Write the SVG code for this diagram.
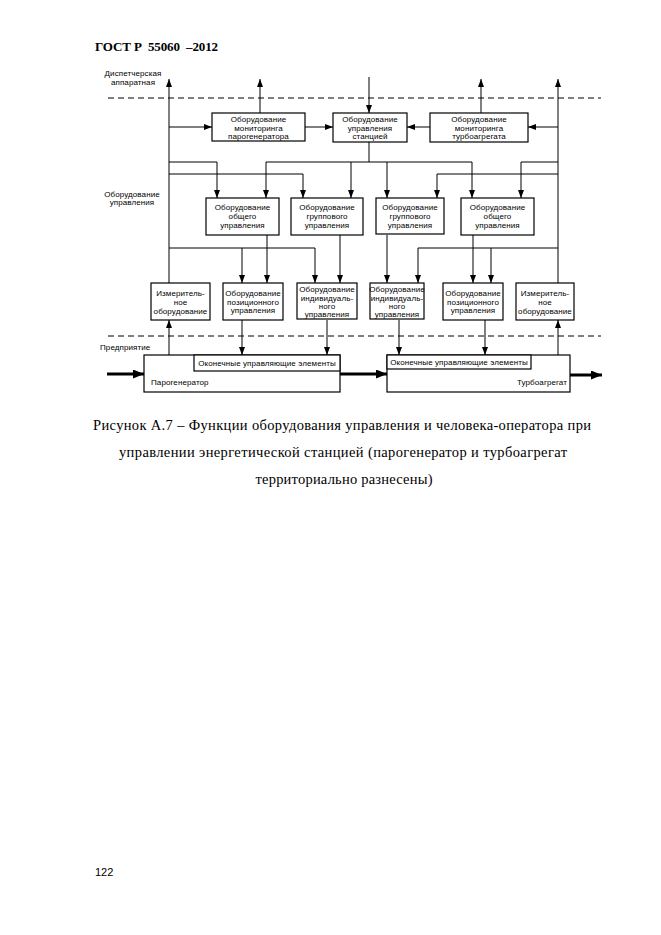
<svg xmlns="http://www.w3.org/2000/svg" width="661" height="935" viewBox="0 0 661 935">
<style>
.bg{fill:#fff}
.box{fill:#fff;stroke:#000;stroke-width:1.2}
.t{font-family:"Liberation Sans",Arial,sans-serif;font-size:8px;letter-spacing:0.1px;fill:#000}
.c{text-anchor:middle}
.ln{fill:none;stroke:#000;stroke-width:1}
.th{fill:none;stroke:#000;stroke-width:3}
.dash{stroke:#000;stroke-width:1;stroke-dasharray:6,4}
.cap{font-family:"Liberation Serif","Times New Roman",serif;font-size:14.5px;fill:#000;text-anchor:middle}
</style>
<defs>
<marker id="ah" markerWidth="8" markerHeight="6" refX="8" refY="3" orient="auto" markerUnits="userSpaceOnUse"><path d="M0,0 L8,3 L0,6 z" fill="#000"/></marker>
<marker id="tah" markerWidth="11" markerHeight="9" refX="11" refY="4.5" orient="auto" markerUnits="userSpaceOnUse"><path d="M0,0 L11,4.5 L0,9 z" fill="#000"/></marker>
</defs>
<rect class="bg" x="0" y="0" width="661" height="935"/>
<text x="95" y="51" font-family="Liberation Serif,serif" font-weight="bold" font-size="13" textLength="123" lengthAdjust="spacing" xml:space="preserve">ГОСТ Р  55060  –2012</text>

<g id="labels">
<text class="t c" x="133" y="76">Диспетчерская</text>
<text class="t c" x="133" y="85">аппаратная</text>
<text class="t c" x="132" y="197">Оборудование</text>
<text class="t c" x="132" y="205">управления</text>
<text class="t" x="100" y="350">Предприятие</text>
</g>
<line class="dash" x1="108" y1="98" x2="601" y2="98"/>
<line class="dash" x1="108" y1="336" x2="601" y2="336"/>

<g id="connectors">
<path class="ln" d="M169,283 V79" marker-end="url(#ah)"/>
<path class="ln" d="M558,283 V79" marker-end="url(#ah)"/>
<path class="ln" d="M260,113 V79" marker-end="url(#ah)"/>
<path class="ln" d="M481,113 V79" marker-end="url(#ah)"/>
<path class="ln" d="M369,77 V113" marker-end="url(#ah)"/>
<path class="ln" d="M169,127 H212" marker-end="url(#ah)"/>
<path class="ln" d="M558,127 H528" marker-end="url(#ah)"/>
<path class="ln" d="M305,127 H333" marker-end="url(#ah)"/>
<path class="ln" d="M430,127 H407" marker-end="url(#ah)"/>
<path class="ln" d="M369,142 V162"/>
<path class="ln" d="M369,162 H266 V198" marker-end="url(#ah)"/>
<path class="ln" d="M369,162 H472 V198" marker-end="url(#ah)"/>
<path class="ln" d="M351,162 V198" marker-end="url(#ah)"/>
<path class="ln" d="M387,162 V198" marker-end="url(#ah)"/>
<path class="ln" d="M169,162 H217 V198" marker-end="url(#ah)"/>
<path class="ln" d="M169,174 H303 V198" marker-end="url(#ah)"/>
<path class="ln" d="M558,162 H521 V198" marker-end="url(#ah)"/>
<path class="ln" d="M558,174 H437 V198" marker-end="url(#ah)"/>
<path class="ln" d="M267,235 V283" marker-end="url(#ah)"/>
<path class="ln" d="M169,248 H315 V283" marker-end="url(#ah)"/>
<path class="ln" d="M242,248 V283" marker-end="url(#ah)"/>
<path class="ln" d="M340,235 V283" marker-end="url(#ah)"/>
<path class="ln" d="M387,235 V283" marker-end="url(#ah)"/>
<path class="ln" d="M558,248 H418 V283" marker-end="url(#ah)"/>
<path class="ln" d="M491,248 V283" marker-end="url(#ah)"/>
<path class="ln" d="M473,235 V283" marker-end="url(#ah)"/>
<path class="ln" d="M242,320 V355" marker-end="url(#ah)"/>
<path class="ln" d="M327,320 V355" marker-end="url(#ah)"/>
<path class="ln" d="M399,320 V355" marker-end="url(#ah)"/>
<path class="ln" d="M485,320 V355" marker-end="url(#ah)"/>
<path class="ln" d="M169,355 V320" marker-end="url(#ah)"/>
<path class="ln" d="M558,355 V320" marker-end="url(#ah)"/>
<path class="th" d="M107,374 H144" marker-end="url(#tah)"/>
<path class="th" d="M340,374 H387" marker-end="url(#tah)"/>
<path class="th" d="M570,375 H602" marker-end="url(#tah)"/>
</g>

<g id="mon-pg"><rect class="box" x="212" y="113" width="93" height="28"/>
<text class="t c" x="258.5" y="122">Оборудование</text><text class="t c" x="258.5" y="130.5">мониторинга</text><text class="t c" x="258.5" y="139">парогенератора</text></g>
<g id="station"><rect class="box" x="333" y="113" width="74" height="29"/>
<text class="t c" x="370" y="122">Оборудование</text><text class="t c" x="370" y="130.5">управления</text><text class="t c" x="370" y="139">станцией</text></g>
<g id="mon-ta"><rect class="box" x="430" y="113" width="98" height="29"/>
<text class="t c" x="479" y="122">Оборудование</text><text class="t c" x="479" y="130.5">мониторинга</text><text class="t c" x="479" y="139">турбоагрегата</text></g>

<g id="gen1"><rect class="box" x="206" y="198" width="73" height="37"/>
<text class="t c" x="242.5" y="210">Оборудование</text><text class="t c" x="242.5" y="219">общего</text><text class="t c" x="242.5" y="227.5">управления</text></g>
<g id="grp1"><rect class="box" x="291" y="198" width="72" height="37"/>
<text class="t c" x="327" y="210">Оборудование</text><text class="t c" x="327" y="219">группового</text><text class="t c" x="327" y="227.5">управления</text></g>
<g id="grp2"><rect class="box" x="376" y="198" width="68" height="36"/>
<text class="t c" x="410" y="210">Оборудование</text><text class="t c" x="410" y="219">группового</text><text class="t c" x="410" y="227.5">управления</text></g>
<g id="gen2"><rect class="box" x="461" y="198" width="73" height="37"/>
<text class="t c" x="497.5" y="210">Оборудование</text><text class="t c" x="497.5" y="219">общего</text><text class="t c" x="497.5" y="227.5">управления</text></g>

<g id="meas1"><rect class="box" x="151" y="283" width="59" height="37"/>
<text class="t c" x="180.5" y="296">Измеритель-</text><text class="t c" x="180.5" y="304.5">ное</text><text class="t c" x="180.5" y="313.5">оборудование</text></g>
<g id="pos1"><rect class="box" x="223" y="283" width="60" height="37"/>
<text class="t c" x="253" y="296">Оборудование</text><text class="t c" x="253" y="304.5">позиционного</text><text class="t c" x="253" y="312.5">управления</text></g>
<g id="ind1"><rect class="box" x="297" y="283" width="60" height="36"/>
<text class="t c" x="327" y="292">Оборудование</text><text class="t c" x="327" y="300.5">индивидуаль-</text><text class="t c" x="327" y="309">ного</text><text class="t c" x="327" y="317">управления</text></g>
<g id="ind2"><rect class="box" x="370" y="283" width="54" height="36"/>
<text class="t c" x="397" y="292">Оборудование</text><text class="t c" x="397" y="300.5">индивидуаль-</text><text class="t c" x="397" y="309">ного</text><text class="t c" x="397" y="317">управления</text></g>
<g id="pos2"><rect class="box" x="443" y="283" width="60" height="37"/>
<text class="t c" x="473" y="296">Оборудование</text><text class="t c" x="473" y="304.5">позиционного</text><text class="t c" x="473" y="312.5">управления</text></g>
<g id="meas2"><rect class="box" x="516" y="283" width="58" height="37"/>
<text class="t c" x="545" y="296">Измеритель-</text><text class="t c" x="545" y="304.5">ное</text><text class="t c" x="545" y="313.5">оборудование</text></g>

<g id="pg"><rect class="box" x="144" y="355" width="196" height="37"/>
<rect class="box" x="194" y="355" width="146" height="16"/>
<text class="t c" x="267" y="366">Оконечные управляющие элементы</text>
<text class="t" x="151" y="385">Парогенератор</text></g>
<g id="ta"><rect class="box" x="387" y="355" width="183" height="37"/>
<rect class="box" x="387" y="355" width="144" height="14"/>
<text class="t c" x="459" y="365">Оконечные управляющие элементы</text>
<text class="t" x="567" y="385" text-anchor="end">Турбоагрегат</text></g>

<text class="cap" x="342" y="430" textLength="498" lengthAdjust="spacing">Рисунок А.7 – Функции оборудования управления и человека-оператора при</text>
<text class="cap" x="343" y="457" textLength="448" lengthAdjust="spacing">управлении энергетической станцией (парогенератор и турбоагрегат</text>
<text class="cap" x="344" y="484" textLength="177" lengthAdjust="spacing">территориально разнесены)</text>
<text x="95" y="876" font-family="Liberation Sans,Arial,sans-serif" font-size="11">122</text>
</svg>
